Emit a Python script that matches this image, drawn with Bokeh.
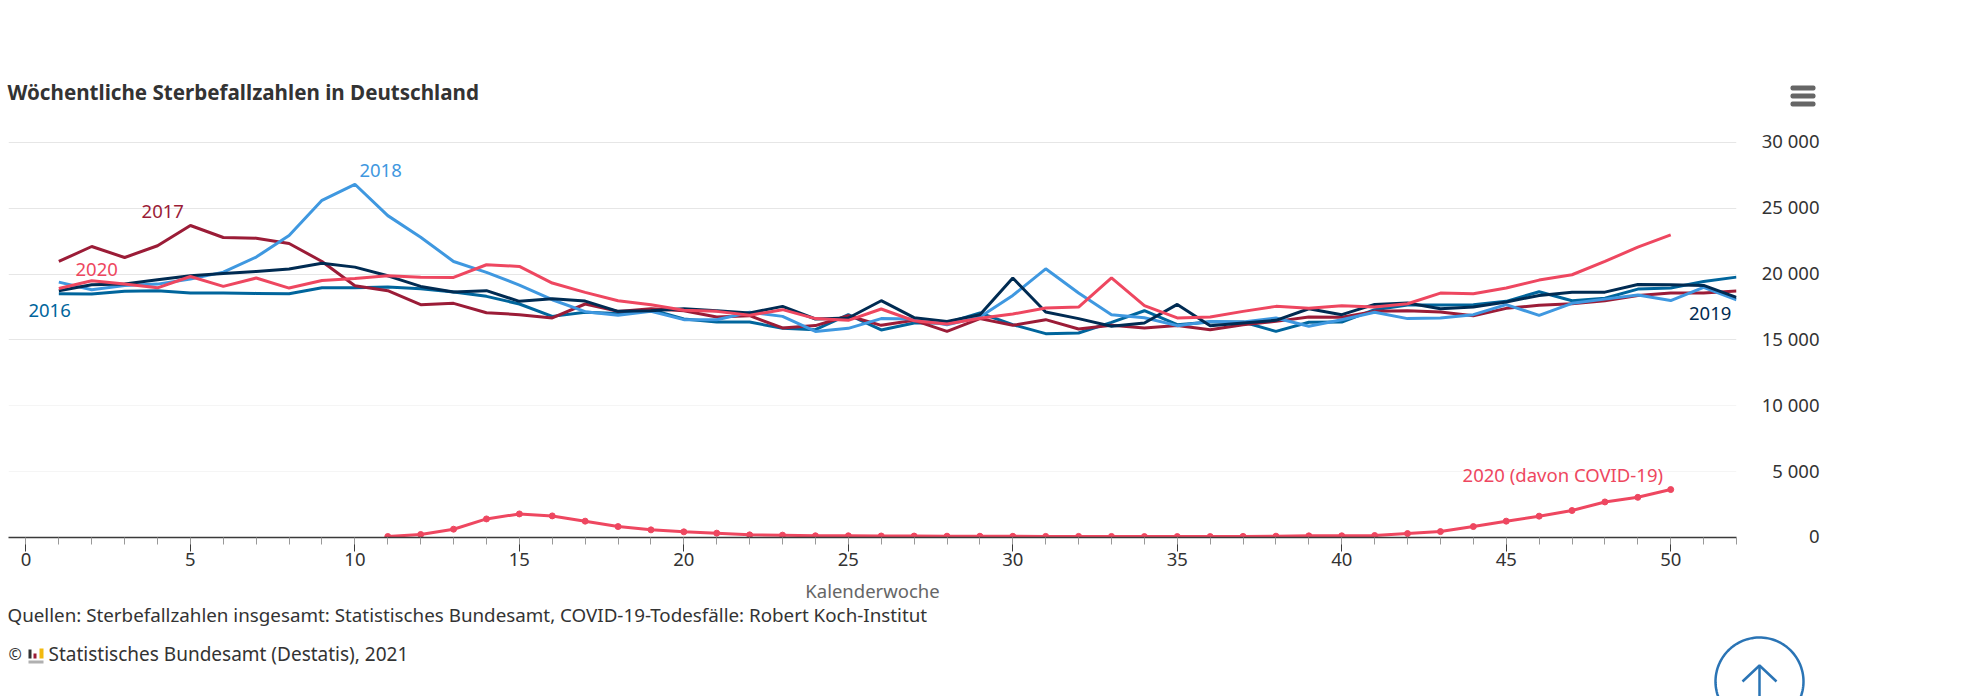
import numpy as np
from bokeh.core.properties import value
from bokeh.embed import file_html
from bokeh.layouts import column
from bokeh.resources import INLINE
from bokeh.plotting import figure
from bokeh.models import (Range1d, FixedTicker, Grid, LinearAxis, Label)

weeks = list(range(1, 53))
y2016 = [18510,18485,18690,18740,18560,18560,18535,18510,18960,18960,19015,18890,18640,18310,17730,16790,17100,17000,17300,
         16590,16360,16360,15880,15780,16920,15760,16290,16290,17045,16160,15480,15530,16340,17220,16160,16360,16360,15650,16340,
         16360,17300,17650,17650,17680,17930,18660,17980,18170,18860,18940,19440,19770]
y2017 = [20960,22095,21260,22150,23690,22780,22730,22320,20960,19115,18740,17680,17780,17070,16920,16670,17730,17170,17370,
         17220,16740,16840,15910,16090,16840,16110,16490,15650,16620,16110,16540,15830,16110,15910,16090,15780,16160,16410,16740,
         16720,17170,17220,17120,16840,17400,17630,17750,17980,18380,18560,18560,18710]
y2018 = [19390,18810,19140,19240,19620,20150,21290,22930,25600,26820,24440,22800,20960,20130,19170,18055,17150,16870,17170,
         16540,16540,17100,16790,15650,15880,16620,16590,16160,16740,18380,20400,18560,16920,16690,16085,16410,16360,16670,16035,
         16540,17100,16620,16670,16920,17680,16870,17780,18100,18420,17990,19000,18050]
y2019 = [18740,19190,19240,19570,19870,20050,20200,20380,20830,20530,19870,19065,18640,18740,17930,18130,17950,17170,17220,
         17370,17220,17045,17550,16590,16670,17980,16690,16410,16920,19700,17120,16620,16035,16290,17700,16085,16290,16490,17370,
         16920,17700,17800,17370,17500,17880,18380,18630,18630,19215,19190,19140,18230]
weeks2020 = list(range(1, 51))
y2020 = [18910,19490,19240,18960,19820,19065,19700,18940,19520,19670,19870,19770,19750,20710,20580,19320,18610,17980,17680,
         17250,17170,16870,17300,16620,16490,17350,16460,16210,16640,16970,17420,17500,19720,17600,16670,16740,17170,17550,17400,
         17600,17500,17750,18560,18510,18940,19545,19950,20960,22050,22980]
weeks_covid = list(range(11, 51))
covid = [75,230,630,1410,1790,1640,1240,830,580,430,330,200,180,130,130,115,110,100,95,90,85,85,80,70,70,70,85,100,125,
         130,150,300,450,830,1240,1620,2050,2700,3050,3640]
y_ticks = [0,5000,10000,15000,20000,25000,30000]
y_labels = ["0","5 000","10 000","15 000","20 000","25 000","30 000"]
x_major = list(range(0,55,5))
x_minor = list(range(0,53))

TEAL, DRED, LBLUE, NAVY, PINK = "#00659c", "#9b1c37", "#3f98e0", "#002b52", "#ee4760"
FONT = "Noto Sans"
TXT = "#333333"

W, H = 1972, 696
FL, FR, FT, FB = 8, 1736, 140, 537  # frame box in the page
PX_Y = 5000/65.85
def dy(y): return (FB-y)*PX_Y
def py(v): return FB - v/PX_Y

p = figure(width=W, height=H, output_backend="svg", toolbar_location=None,
           x_range=Range1d(-0.53, 52), y_range=Range1d(0, dy(FT)),
           min_border_left=FL, min_border_right=W-FR, min_border_top=FT, min_border_bottom=H-FB,
           x_axis_type=None, y_axis_type=None, outline_line_color=None, background_fill_color="white",
           frame_align=False)
p.margin = 0

p.add_layout(Grid(dimension=1, ticker=FixedTicker(ticks=[15000,20000,25000,30000]), grid_line_color="#e6e6e6", grid_line_width=1))
p.add_layout(Grid(dimension=1, ticker=FixedTicker(ticks=[5000,10000]), grid_line_color="#f5f5f5", grid_line_width=1))

xaxis = LinearAxis(ticker=FixedTicker(ticks=x_major, minor_ticks=x_minor), axis_line_color="#3a3a3a", axis_line_width=1.5,
                   major_tick_in=0, major_tick_out=14, major_tick_line_color="#3a3a3a", major_tick_line_width=1,
                   minor_tick_in=0, minor_tick_out=7, minor_tick_line_color="#999999", minor_tick_line_width=1,
                   major_label_text_font=FONT, major_label_text_font_size="18.5px", major_label_text_color=TXT,
                   major_label_standoff=1, axis_label="Kalenderwoche", axis_label_text_font=FONT,
                   axis_label_text_font_size="18.5px", axis_label_text_font_style="normal", axis_label_text_color="#666666",
                   axis_label_standoff=9)
p.add_layout(xaxis, "below")

for ys, c in [(y2016,TEAL),(y2017,DRED),(y2018,LBLUE),(y2019,NAVY)]:
    p.line(weeks, ys, line_color=c, line_width=3)
p.line(weeks2020, y2020, line_color=PINK, line_width=3)
p.line(weeks_covid, covid, line_color=PINK, line_width=3)
p.scatter(weeks_covid, covid, size=6, fill_color=PINK, line_color=PINK)

def series_label(txt, x, y, c):
    p.add_layout(Label(x=x, y=y, text=txt, text_color=c, text_font=FONT, text_font_size="18.5px",
                       text_align="center", text_baseline="middle"))
series_label("2018", 10.78, 27880, LBLUE)
series_label("2017", 4.16, 24780, DRED)
series_label("2020", 2.15, 20380, PINK)
series_label("2016", 0.72, 17200, TEAL)
series_label("2019", 51.2, 16980, NAVY)
series_label("2020 (davon COVID-19)", 46.72, 4800, PINK)

# transparent overlay in page pixels for what lies outside the plot frame
q = figure(width=W, height=H, output_backend="svg", toolbar_location=None,
           x_range=Range1d(0, W), y_range=Range1d(H, 0), min_border=0,
           x_axis_type=None, y_axis_type=None, outline_line_color=None,
           background_fill_color=None, border_fill_color=None, frame_align=False)
q.margin = (-H, 0, 0, 0)
q.grid.visible = False

def txt(s, x, y, size, c, style="normal", align="left"):
    q.text([x], [y], text=[s], text_color=c, text_font=value(FONT), text_font_size=size, text_font_style=style,
           text_align=align, text_baseline="middle")
txt("Wöchentliche Sterbefallzahlen in Deutschland", 7, 91, "20.6px", TXT, "bold")
txt("Quellen: Sterbefallzahlen insgesamt: Statistisches Bundesamt, COVID-19-Todesfälle: Robert Koch-Institut", 7, 614, "18.8px", TXT)
txt("©", 8, 653.5, "16px", TXT)
txt("Statistisches Bundesamt (Destatis), 2021", 48, 653.5, "19px", TXT)
for v, lab in zip(y_ticks, y_labels):
    txt(lab, 1819, py(v)-1.5, "18.5px", TXT, align="right")

# menu icon, logo, back-to-top button
q.quad(left=[1790]*3, right=[1815]*3, top=[85,93,101], bottom=[90,98,106], fill_color="#666666", line_color=None, border_radius=2)
q.quad(left=[28,28,33,39], right=[43,31,36,43], top=[660,649,653,648], bottom=[663,658,658,658],
       fill_color=["#b0b0b0","#333333","#9b1c37","#f2b90f"], line_color=None)
t = np.linspace(0, 2*np.pi, 120)
q.line(1759+44*np.cos(t), 681+44*np.sin(t), line_color="#2a74b5", line_width=2.5)
q.line([1759,1759], [666,696], line_color="#2a74b5", line_width=2.5)
q.line([1742,1759,1776], [681,665,681], line_color="#2a74b5", line_width=2.5)

open("out.html", "w").write(file_html(column(p, q, spacing=0), INLINE))
